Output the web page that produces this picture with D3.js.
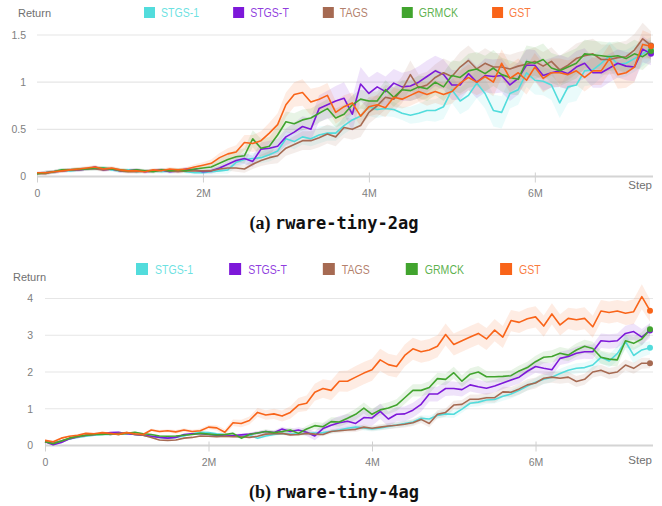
<!DOCTYPE html>
<html>
<head>
<meta charset="utf-8">
<script src="https://cdn.jsdelivr.net/npm/d3@7"></script>
<style>
  body { margin: 0; background: #fff; }
  svg { display: block; }
</style>
</head>
<body>
<script>
// series names / colours (same order everywhere)
var names = ["STGS-1", "STGS-T", "TAGS", "GRMCK", "GST"];
var colors = ["#52dcdc", "#7d18d9", "#a66a52", "#41a42e", "#f96419"];

// one point every 0.1M steps, 75 points (0 .. 7.4M)
var stepSize = 100000;
var xTicks = [0, 2000000, 4000000, 6000000];
var xTickLabels = ["0", "2M", "4M", "6M"];

var yTicks2ag = [0, 0.5, 1, 1.5];
var yTicks4ag = [0, 1, 2, 3, 4];

// rware-tiny-2ag mean return
var stgs1_2ag = [0.03,0.04,0.05,0.07,0.06,0.07,0.08,0.08,0.09,0.07,0.06,0.07,0.05,0.06,0.06,0.05,0.06,0.07,0.05,0.04,
  0.04,0.05,0.06,0.07,0.15,0.18,0.19,0.2,0.23,0.27, 0.4,0.37,0.42,0.4,0.44,0.46,0.46,0.54,0.6,0.64,
  0.74,0.71,0.72,0.71,0.67,0.65,0.67,0.7,0.7,0.74, 0.92,0.8,0.86,0.99,0.88,0.7,0.68,0.88,0.92,1.1,
  1.02,1.01,0.97,0.78,0.95,0.97,1.12,1.13,1.2,1.28, 1.19,1.2,1.25,1.3,1.36];
var stgst_2ag = [0.04,0.04,0.05,0.06,0.07,0.07,0.08,0.1,0.07,0.08,0.06,0.06,0.07,0.05,0.06,0.07,0.05,0.06,0.08,0.07,
  0.05,0.06,0.09,0.13,0.17,0.19,0.16,0.29,0.3,0.32, 0.42,0.47,0.53,0.5,0.72,0.76,0.8,0.83,0.66,0.98,
  0.88,0.95,0.9,0.99,0.95,0.96,1.0,1.06,1.12,1.08, 0.97,0.97,1.09,1.0,1.07,1.06,1.07,0.97,1.04,1.18,
  1.18,1.07,1.1,1.12,1.09,1.16,1.2,1.1,1.1,1.15, 1.2,1.17,1.16,1.35,1.3];
var tags_2ag = [0.03,0.03,0.05,0.06,0.07,0.07,0.08,0.08,0.07,0.08,0.06,0.05,0.05,0.06,0.06,0.07,0.06,0.05,0.06,0.06,
  0.06,0.06,0.08,0.09,0.09,0.08,0.13,0.17,0.2,0.22, 0.3,0.34,0.38,0.38,0.41,0.45,0.42,0.52,0.5,0.54,
  0.68,0.75,0.84,0.82,0.92,1.08,0.94,0.97,1.05,1.1, 1.06,1.16,1.23,1.14,1.2,1.16,1.16,1.14,1.17,1.19,
  1.22,1.17,1.22,1.13,1.18,1.25,1.28,1.3,1.24,1.24, 1.26,1.27,1.34,1.46,1.39];
var grmck_2ag = [0.03,0.04,0.05,0.07,0.07,0.08,0.08,0.09,0.09,0.08,0.07,0.06,0.07,0.06,0.05,0.07,0.06,0.07,0.06,0.08,
  0.09,0.1,0.14,0.18,0.21,0.22,0.4,0.3,0.32,0.44, 0.58,0.56,0.6,0.62,0.67,0.72,0.62,0.66,0.76,0.82,
  0.8,0.8,0.92,0.84,0.92,0.91,0.95,0.93,1.0,0.95, 1.07,1.05,1.12,1.14,1.09,1.15,1.08,1.05,1.03,1.22,
  1.2,1.24,1.15,1.12,1.16,1.2,1.3,1.29,1.28,1.27, 1.28,1.25,1.3,1.27,1.33];
var gst_2ag = [0.04,0.04,0.05,0.06,0.07,0.08,0.09,0.1,0.08,0.09,0.07,0.06,0.06,0.05,0.07,0.06,0.08,0.07,0.08,0.1,
  0.12,0.14,0.2,0.24,0.26,0.36,0.35,0.38,0.46,0.55, 0.76,0.87,0.89,0.79,0.82,0.86,0.68,0.74,0.78,0.64,
  0.74,0.76,0.73,0.84,0.82,0.86,0.9,0.87,0.9,0.87, 0.9,0.99,1.05,1.0,1.06,1.0,1.2,1.04,1.1,1.02,
  1.16,1.04,1.1,1.1,1.08,1.12,1.05,1.12,1.12,1.25, 1.08,1.1,1.16,1.4,1.38];

// rware-tiny-2ag spread (half width of shaded band)
var stgs1_2ag_sd = [0.01,0.02,0.02,0.02,0.02,0.02,0.02,0.02,0.02,0.02,0.02,0.02,0.02,0.02,0.02,0.02,0.02,0.02,0.02,0.02,
  0.02,0.03,0.03,0.04,0.05,0.05,0.06,0.06,0.07,0.07, 0.08,0.08,0.08,0.08,0.09,0.08,0.08,0.09,0.09,0.1,
  0.1,0.09,0.08,0.08,0.07,0.09,0.1,0.11,0.12,0.13, 0.14,0.14,0.15,0.16,0.16,0.17,0.17,0.16,0.16,0.15,
  0.15,0.15,0.16,0.16,0.17,0.17,0.16,0.16,0.15,0.15, 0.15,0.14,0.14,0.13,0.12];
var stgst_2ag_sd = [0.01,0.02,0.02,0.02,0.02,0.02,0.02,0.02,0.02,0.02,0.02,0.02,0.02,0.02,0.02,0.02,0.02,0.02,0.02,0.02,
  0.02,0.03,0.03,0.04,0.05,0.06,0.06,0.07,0.08,0.08, 0.09,0.1,0.11,0.12,0.14,0.15,0.16,0.17,0.18,0.18,
  0.17,0.16,0.16,0.15,0.15,0.16,0.17,0.17,0.16,0.16, 0.16,0.16,0.17,0.17,0.18,0.18,0.18,0.17,0.17,0.17,
  0.16,0.16,0.16,0.17,0.17,0.17,0.16,0.16,0.16,0.15, 0.15,0.15,0.15,0.14,0.12];
var tags_2ag_sd = [0.01,0.02,0.02,0.02,0.02,0.02,0.02,0.02,0.02,0.02,0.02,0.02,0.02,0.02,0.02,0.02,0.02,0.02,0.02,0.02,
  0.02,0.02,0.03,0.03,0.04,0.04,0.05,0.06,0.07,0.08, 0.08,0.09,0.1,0.1,0.1,0.1,0.1,0.11,0.11,0.12,
  0.12,0.12,0.13,0.13,0.14,0.15,0.14,0.14,0.14,0.15, 0.15,0.16,0.16,0.16,0.16,0.15,0.15,0.15,0.15,0.15,
  0.15,0.15,0.15,0.15,0.16,0.16,0.16,0.16,0.16,0.16, 0.16,0.17,0.17,0.17,0.15];
var grmck_2ag_sd = [0.01,0.02,0.02,0.02,0.02,0.02,0.02,0.02,0.02,0.02,0.02,0.02,0.02,0.02,0.02,0.02,0.02,0.02,0.02,0.03,
  0.03,0.04,0.05,0.06,0.07,0.08,0.09,0.1,0.1,0.1, 0.11,0.11,0.11,0.1,0.1,0.1,0.1,0.1,0.1,0.1,
  0.1,0.1,0.1,0.1,0.1,0.11,0.12,0.13,0.14,0.15, 0.16,0.17,0.18,0.18,0.19,0.19,0.18,0.18,0.17,0.17,
  0.17,0.17,0.16,0.16,0.16,0.16,0.15,0.15,0.15,0.15, 0.15,0.15,0.15,0.14,0.12];
var gst_2ag_sd = [0.01,0.02,0.02,0.02,0.02,0.02,0.02,0.02,0.02,0.02,0.02,0.02,0.02,0.02,0.02,0.02,0.02,0.02,0.02,0.03,
  0.03,0.04,0.05,0.06,0.07,0.08,0.09,0.1,0.11,0.12, 0.13,0.13,0.14,0.14,0.13,0.13,0.12,0.12,0.11,0.11,
  0.1,0.1,0.1,0.1,0.1,0.11,0.11,0.12,0.12,0.12, 0.13,0.13,0.14,0.14,0.15,0.15,0.15,0.15,0.15,0.15,
  0.15,0.15,0.15,0.15,0.15,0.15,0.15,0.15,0.15,0.15, 0.15,0.16,0.16,0.15,0.13];

// rware-tiny-4ag mean return
var stgs1_4ag = [0.1,0.08,0.12,0.18,0.22,0.25,0.28,0.3,0.3,0.32,0.33,0.3,0.28,0.25,0.22,0.2,0.22,0.26,0.32,0.36,
  0.35,0.32,0.3,0.26,0.24,0.28,0.2,0.26,0.3,0.33, 0.31,0.32,0.33,0.34,0.35,0.38,0.42,0.47,0.5,0.48,
  0.45,0.48,0.52,0.56,0.6,0.64,0.74,0.72,0.82,0.86, 0.85,0.99,1.15,1.18,1.24,1.25,1.34,1.4,1.5,1.62,
  1.72,1.8,1.86,1.96,2.05,2.1,2.12,2.19,2.4,2.3, 2.5,2.83,2.45,2.6,2.66];
var stgst_4ag = [0.1,0.02,0.08,0.18,0.24,0.28,0.3,0.32,0.35,0.36,0.32,0.3,0.28,0.25,0.22,0.2,0.22,0.3,0.32,0.32,
  0.3,0.28,0.26,0.27,0.29,0.31,0.34,0.38,0.35,0.45, 0.38,0.42,0.36,0.26,0.46,0.55,0.62,0.66,0.6,0.76,
  0.75,0.93,0.72,0.85,0.86,0.96,1.12,1.4,1.4,1.55, 1.55,1.52,1.65,1.6,1.56,1.62,1.7,1.78,1.86,2.02,
  2.15,2.1,2.06,2.37,2.42,2.51,2.55,2.55,2.85,2.83, 2.85,3.05,3.1,2.95,3.13];
var tags_4ag = [0.1,0.06,0.12,0.2,0.24,0.27,0.3,0.33,0.3,0.33,0.35,0.3,0.28,0.22,0.15,0.14,0.15,0.2,0.22,0.26,
  0.25,0.24,0.25,0.24,0.24,0.22,0.25,0.31,0.32,0.33, 0.29,0.3,0.33,0.31,0.3,0.38,0.4,0.42,0.44,0.5,
  0.47,0.5,0.53,0.55,0.58,0.62,0.71,0.6,0.85,0.9, 1.1,1.12,1.26,1.26,1.3,1.3,1.46,1.45,1.54,1.65,
  1.7,1.83,1.86,1.83,1.86,1.74,1.8,2.0,2.05,1.96, 2.0,2.19,2.1,2.24,2.24];
var grmck_4ag = [0.1,0.05,0.12,0.2,0.25,0.28,0.3,0.3,0.32,0.3,0.33,0.36,0.32,0.3,0.26,0.25,0.26,0.28,0.3,0.33,
  0.31,0.29,0.3,0.33,0.2,0.3,0.34,0.38,0.35,0.38, 0.42,0.33,0.45,0.54,0.51,0.65,0.64,0.74,0.85,1.02,
  0.85,0.97,1.02,1.1,1.3,1.5,1.5,1.58,1.82,1.8, 1.98,1.75,1.94,2.0,1.87,1.87,1.88,1.9,2.03,2.12,
  2.28,2.4,2.42,2.51,2.46,2.6,2.7,2.64,2.4,2.35, 2.33,2.85,2.78,2.9,3.16];
var gst_4ag = [0.14,0.1,0.2,0.25,0.28,0.33,0.32,0.35,0.33,0.3,0.35,0.32,0.3,0.42,0.38,0.4,0.37,0.42,0.38,0.4,
  0.5,0.48,0.36,0.62,0.6,0.68,0.9,0.83,0.86,0.8, 0.9,1.1,1.15,1.45,1.55,1.5,1.75,1.75,1.86,1.97,
  2.06,2.33,2.2,2.15,2.45,2.63,2.55,2.6,2.7,3.02, 2.75,2.85,2.95,3.05,2.9,3.14,2.95,3.4,3.35,3.45,
  3.5,3.25,3.58,3.28,3.46,3.42,3.46,3.23,3.66,3.62, 3.66,3.6,3.64,4.05,3.67];

// rware-tiny-4ag spread
var stgs1_4ag_sd = [0.02,0.02,0.02,0.02,0.02,0.02,0.02,0.02,0.02,0.02,0.02,0.02,0.02,0.02,0.02,0.02,0.02,0.02,0.02,0.03,
  0.03,0.03,0.03,0.03,0.03,0.03,0.04,0.04,0.04,0.04, 0.04,0.04,0.05,0.05,0.05,0.05,0.06,0.06,0.06,0.07,
  0.07,0.07,0.08,0.08,0.08,0.08,0.08,0.09,0.09,0.1, 0.1,0.1,0.1,0.11,0.11,0.11,0.12,0.12,0.12,0.12,
  0.12,0.13,0.13,0.13,0.13,0.14,0.14,0.15,0.16,0.18, 0.2,0.22,0.22,0.2,0.18];
var stgst_4ag_sd = [0.02,0.02,0.02,0.02,0.02,0.02,0.02,0.02,0.02,0.02,0.02,0.02,0.02,0.02,0.02,0.02,0.02,0.02,0.03,0.03,
  0.03,0.03,0.03,0.03,0.04,0.04,0.05,0.05,0.06,0.06, 0.07,0.08,0.1,0.12,0.14,0.16,0.18,0.2,0.2,0.21,
  0.21,0.21,0.2,0.2,0.2,0.2,0.2,0.2,0.2,0.2, 0.19,0.19,0.18,0.18,0.18,0.17,0.17,0.17,0.17,0.17,
  0.17,0.17,0.17,0.18,0.18,0.18,0.19,0.2,0.2,0.2, 0.2,0.21,0.22,0.22,0.2];
var tags_4ag_sd = [0.02,0.02,0.02,0.02,0.02,0.02,0.02,0.02,0.02,0.02,0.02,0.02,0.02,0.02,0.02,0.02,0.02,0.02,0.02,0.02,
  0.02,0.02,0.03,0.03,0.03,0.03,0.03,0.04,0.04,0.04, 0.04,0.04,0.05,0.05,0.05,0.06,0.06,0.06,0.07,0.07,
  0.07,0.08,0.08,0.08,0.09,0.09,0.1,0.1,0.11,0.11, 0.12,0.12,0.13,0.13,0.13,0.14,0.14,0.14,0.15,0.15,
  0.15,0.15,0.15,0.15,0.15,0.15,0.15,0.15,0.15,0.15, 0.15,0.15,0.15,0.15,0.14];
var grmck_4ag_sd = [0.02,0.02,0.02,0.02,0.02,0.02,0.02,0.02,0.02,0.02,0.02,0.02,0.02,0.02,0.02,0.02,0.02,0.02,0.02,0.02,
  0.03,0.03,0.03,0.04,0.04,0.05,0.05,0.06,0.06,0.07, 0.07,0.08,0.09,0.1,0.11,0.12,0.13,0.14,0.15,0.15,
  0.15,0.15,0.16,0.16,0.17,0.17,0.17,0.17,0.16,0.16, 0.16,0.16,0.16,0.16,0.16,0.15,0.15,0.15,0.15,0.16,
  0.16,0.16,0.17,0.17,0.17,0.18,0.18,0.18,0.18,0.18, 0.18,0.18,0.18,0.18,0.16];
var gst_4ag_sd = [0.03,0.03,0.03,0.03,0.03,0.03,0.03,0.03,0.03,0.03,0.03,0.03,0.04,0.04,0.04,0.04,0.05,0.05,0.05,0.06,
  0.06,0.07,0.08,0.09,0.1,0.11,0.12,0.13,0.14,0.15, 0.17,0.19,0.21,0.23,0.25,0.27,0.28,0.29,0.3,0.3,
  0.3,0.3,0.3,0.3,0.3,0.3,0.3,0.3,0.3,0.3, 0.3,0.3,0.3,0.3,0.3,0.3,0.3,0.29,0.29,0.29,
  0.29,0.29,0.29,0.29,0.29,0.3,0.3,0.3,0.3,0.3, 0.3,0.32,0.34,0.34,0.3];

var lastStep = (stgs1_2ag.length - 1) * stepSize;
var sansFont = "'Liberation Sans', Arial, sans-serif";

var svg = d3.select("body").append("svg")
    .attr("width", 662)
    .attr("height", 506);

function drawPanel(p) {
  var g = svg.append("g").attr("class", "panel");
  var x = d3.scaleLinear().domain([0, lastStep]).range([p.left, p.right]);
  var y = d3.scaleLinear().domain([0, p.yMax]).range([p.bottom, p.top]);

  // horizontal grid
  g.append("g").attr("class", "grid")
    .selectAll("line").data(p.yTicks.slice(1)).join("line")
      .attr("x1", p.left).attr("x2", p.gridEnd)
      .attr("y1", function(d) { return y(d); })
      .attr("y2", function(d) { return y(d); })
      .attr("stroke", "#e6e6e6")
      .attr("stroke-width", 1.2);

  // y tick labels
  var yAxis = g.append("g")
      .attr("transform", "translate(" + p.left + ",0)")
      .call(d3.axisLeft(y).tickValues(p.yTicks).tickSize(0).tickPadding(p.yPad)
        .tickFormat(function(d) { return d3.format("~g")(d); }));
  yAxis.select(".domain").remove();
  yAxis.selectAll("text")
      .attr("fill", "#808080")
      .style("font-family", sansFont)
      .style("font-size", "10.5px");

  // x axis
  var xAxis = g.append("g")
      .attr("transform", "translate(0," + p.bottom + ")")
      .call(d3.axisBottom(x).tickValues(xTicks).tickSize(6).tickPadding(p.xPad)
        .tickFormat(function(d, i) { return xTickLabels[i]; }));
  xAxis.select(".domain")
      .attr("d", "M" + p.left + ",0H" + p.gridEnd)
      .attr("stroke", "#d4d4d4")
      .attr("stroke-width", 2);
  xAxis.selectAll(".tick line")
      .attr("y1", -4)
      .attr("stroke", "#d0d0d0");
  xAxis.selectAll(".tick text")
      .attr("fill", "#808080")
      .style("font-family", sansFont)
      .style("font-size", "10.5px");

  // axis titles
  g.append("text")
      .attr("x", p.returnX).attr("y", p.returnY)
      .attr("fill", "#707070")
      .style("font-family", sansFont)
      .style("font-size", "11px")
      .text("Return");
  g.append("text")
      .attr("x", p.gridEnd - 1).attr("y", p.stepY)
      .attr("text-anchor", "end")
      .attr("fill", "#707070")
      .style("font-family", sansFont)
      .style("font-size", "11.5px")
      .text("Step");

  // shaded bands
  var band = d3.area()
      .x(function(d, i) { return x(i * stepSize); })
      .y0(function(d) { return y(d[0] - d[1]); })
      .y1(function(d) { return y(d[0] + d[1]); });
  g.append("g").attr("class", "bands")
    .selectAll("path").data(p.series).join("path")
      .attr("d", function(s, k) { return band(s.map(function(v, i) { return [v, p.spread[k][i]]; })); })
      .attr("fill", function(s, k) { return colors[k]; })
      .attr("fill-opacity", 0.12);

  // lines
  var line = d3.line()
      .x(function(d, i) { return x(i * stepSize); })
      .y(function(d) { return y(d); });
  g.append("g").attr("class", "lines")
    .selectAll("path").data(p.series).join("path")
      .attr("d", line)
      .attr("fill", "none")
      .attr("stroke", function(s, k) { return colors[k]; })
      .attr("stroke-width", 1.6)
      .attr("stroke-linejoin", "round");

  // end markers
  g.append("g").attr("class", "ends")
    .selectAll("circle").data(p.series).join("circle")
      .attr("cx", x(lastStep))
      .attr("cy", function(s) { return y(s[s.length - 1]); })
      .attr("r", 3)
      .attr("fill", function(s, k) { return colors[k]; });

  // legend
  var legend = g.append("g").attr("class", "legend");
  var lx = p.legendX;
  names.forEach(function(name, k) {
    legend.append("rect")
        .attr("x", lx).attr("y", p.legendY)
        .attr("width", p.legendBox).attr("height", p.legendBox)
        .attr("fill", colors[k]);
    var t = legend.append("text")
        .attr("transform", "translate(" + (lx + p.legendBox + p.legendTextGap) + "," + (p.legendY + p.legendBox - 1) + ") scale(0.88,1)")
        .attr("fill", colors[k])
        .attr("fill-opacity", 0.85)
        .style("font-family", sansFont)
        .style("font-size", "12px")
        .text(name);
    lx += p.legendBox + p.legendTextGap + t.node().getComputedTextLength() * 0.88 + p.legendGap;
  });

  // caption
  var cap = svg.append("text")
      .attr("x", 334).attr("y", p.captionY)
      .attr("text-anchor", "middle")
      .attr("fill", "#111");
  cap.append("tspan")
      .style("font-family", "'Liberation Serif', 'DejaVu Serif', serif")
      .style("font-weight", "bold")
      .style("font-size", "18px")
      .text(p.captionTag + " ");
  cap.append("tspan")
      .style("font-family", "'DejaVu Sans Mono', monospace")
      .style("font-weight", "bold")
      .style("font-size", "17px")
      .text(p.captionName);
}

drawPanel({
  series: [stgs1_2ag, stgst_2ag, tags_2ag, grmck_2ag, gst_2ag],
  spread: [stgs1_2ag_sd, stgst_2ag_sd, tags_2ag_sd, grmck_2ag_sd, gst_2ag_sd],
  yMax: 1.5, yTicks: yTicks2ag,
  left: 37, right: 651, gridEnd: 653, top: 35, bottom: 176.5,
  yPad: 11, xPad: 7,
  returnX: 18, returnY: 17, stepY: 189,
  legendX: 144, legendY: 7, legendBox: 11, legendTextGap: 6, legendGap: 34,
  captionY: 229, captionTag: "(a)", captionName: "rware-tiny-2ag"
});

drawPanel({
  series: [stgs1_4ag, stgst_4ag, tags_4ag, grmck_4ag, gst_4ag],
  spread: [stgs1_4ag_sd, stgst_4ag_sd, tags_4ag_sd, grmck_4ag_sd, gst_4ag_sd],
  yMax: 4, yTicks: yTicks4ag,
  left: 45, right: 650, gridEnd: 653, top: 298.5, bottom: 445.5,
  yPad: 12, xPad: 7,
  returnX: 13, returnY: 281, stepY: 464,
  legendX: 136, legendY: 263, legendBox: 12, legendTextGap: 7, legendGap: 36,
  captionY: 498, captionTag: "(b)", captionName: "rware-tiny-4ag"
});
</script>
</body>
</html>
